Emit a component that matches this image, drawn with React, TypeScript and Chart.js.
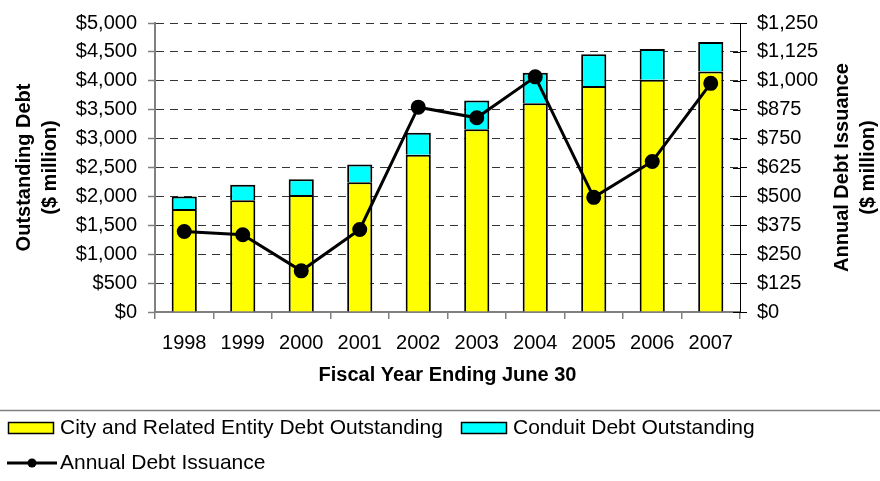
import React, { useEffect, useRef } from "react";
import { Chart, registerables } from "chart.js";

Chart.register(...registerables);

const categories = ["1998", "1999", "2000", "2001", "2002", "2003", "2004", "2005", "2006", "2007"];
const cityDebt = [1780, 1935, 2025, 2245, 2720, 3160, 3610, 3910, 4020, 4160];
const conduitDebt = [220, 265, 270, 305, 380, 500, 530, 550, 530, 510];
const issuance = [348, 334, 178, 357, 886, 840, 1017, 496, 651, 989];

const leftTitle = ["Outstanding Debt", "($ million)"];
const rightTitle = ["Annual Debt Issuance", "($ million)"];
const xTitle = "Fiscal Year Ending June 30";
const legendLabels = ["City and Related Entity Debt Outstanding", "Conduit Debt Outstanding", "Annual Debt Issuance"];

const FONT = "'Liberation Sans', Arial, sans-serif";
const money = (v: number) => "$" + Number(v).toLocaleString("en-US");

const decorPlugin = {
  id: "decor",
  afterDraw(chart: any) {
    const ctx = chart.ctx as CanvasRenderingContext2D;
    const area = chart.chartArea;
    const y1 = chart.scales.y1;
    // inner part of right-axis ticks
    ctx.save();
    ctx.strokeStyle = "#000";
    ctx.lineWidth = 1;
    y1.ticks.forEach((_t: any, i: number) => {
      const py = Math.round(y1.getPixelForTick(i)) + 0.5;
      ctx.beginPath();
      ctx.moveTo(area.right - 7, py);
      ctx.lineTo(area.right, py);
      ctx.stroke();
    });
    ctx.restore();

    ctx.save();
    ctx.fillStyle = "#000";
    ctx.textAlign = "center";
    ctx.textBaseline = "middle";
    ctx.font = `bold 20px ${FONT}`;
    const cy = (area.top + area.bottom) / 2;
    ctx.save();
    ctx.translate(24, cy);
    ctx.rotate(-Math.PI / 2);
    ctx.fillText(leftTitle[0], 0, 0);
    ctx.fillText(leftTitle[1], 0, 26);
    ctx.restore();
    ctx.save();
    ctx.translate(842, cy);
    ctx.rotate(-Math.PI / 2);
    ctx.fillText(rightTitle[0], 0, 0);
    ctx.fillText(rightTitle[1], 0, 26);
    ctx.restore();
    ctx.fillText(xTitle, (area.left + area.right) / 2, 375);
    ctx.restore();

    // legend
    ctx.save();
    ctx.strokeStyle = "#808080";
    ctx.lineWidth = 1.5;
    ctx.beginPath();
    ctx.moveTo(0, 410.5);
    ctx.lineTo(880, 410.5);
    ctx.stroke();

    ctx.font = `21px ${FONT}`;
    ctx.textAlign = "left";
    ctx.textBaseline = "middle";
    ctx.lineWidth = 1.5;
    ctx.strokeStyle = "#000";
    ctx.fillStyle = "#FFFF00";
    ctx.fillRect(8.5, 422.5, 45, 11);
    ctx.strokeRect(8.5, 422.5, 45, 11);
    ctx.fillStyle = "#000";
    ctx.fillText(legendLabels[0], 60, 428);
    ctx.fillStyle = "#00FFFF";
    ctx.fillRect(461.5, 422.5, 45, 11);
    ctx.strokeRect(461.5, 422.5, 45, 11);
    ctx.fillStyle = "#000";
    ctx.fillText(legendLabels[1], 513, 428);
    ctx.lineWidth = 3;
    ctx.beginPath();
    ctx.moveTo(7, 463);
    ctx.lineTo(57, 463);
    ctx.stroke();
    ctx.beginPath();
    ctx.arc(32, 463, 4.5, 0, Math.PI * 2);
    ctx.fill();
    ctx.fillText(legendLabels[2], 60, 463);
    ctx.restore();
  },
};

export default function App() {
  const ref = useRef<HTMLCanvasElement | null>(null);
  useEffect(() => {
    document.body.style.margin = "0";
    const canvas = ref.current;
    if (!canvas) return;
    const chart = new Chart(canvas, {
      type: "bar",
      data: {
        labels: categories,
        datasets: [
          {
            type: "line",
            label: legendLabels[2],
            data: issuance,
            yAxisID: "y1",
            borderColor: "#000",
            backgroundColor: "#000",
            borderWidth: 3,
            pointRadius: 6,
            pointBackgroundColor: "#000",
            pointBorderColor: "#000",
            tension: 0,
            order: 0,
          } as any,
          {
            label: legendLabels[0],
            data: cityDebt,
            yAxisID: "y",
            backgroundColor: "#FFFF00",
            borderColor: "#000",
            borderWidth: 2,
            barPercentage: 0.43,
            categoryPercentage: 1,
            order: 1,
            stack: "debt",
          },
          {
            label: legendLabels[1],
            data: conduitDebt,
            yAxisID: "y",
            backgroundColor: "#00FFFF",
            borderColor: "#000",
            borderWidth: 2,
            barPercentage: 0.43,
            categoryPercentage: 1,
            order: 1,
            stack: "debt",
          },
        ],
      },
      options: {
        responsive: false,
        animation: false,
        layout: { padding: { top: 20, left: 0, right: 0, bottom: 0 } },
        plugins: { legend: { display: false }, tooltip: { enabled: false }, title: { display: false } },
        scales: {
          x: {
            stacked: true,
            offset: true,
            grid: { display: true, drawOnChartArea: false, offset: true, tickLength: 7, color: "#808080", lineWidth: 1.5 },
            border: { color: "#808080", width: 2 },
            ticks: { color: "#000", font: { family: FONT, size: 20 }, padding: 12, maxRotation: 0, autoSkip: false },
            afterFit: (s: any) => { s.height = 169; },
          },
          y: {
            position: "left",
            stacked: true,
            min: 0,
            max: 5000,
            grid: { color: "#333333", lineWidth: 1, tickLength: 7, tickColor: "#808080", tickWidth: 1.5 },
            border: { color: "#808080", width: 2, dash: [8, 6] },
            ticks: { stepSize: 500, color: "#000", font: { family: FONT, size: 20 }, padding: 11, callback: (v: any) => money(v) },
            afterFit: (s: any) => { s.width = 155; },
          },
          y1: {
            position: "right",
            min: 0,
            max: 1250,
            grid: { drawOnChartArea: false, tickLength: 7, color: "#000" },
            border: { color: "#000", width: 1 },
            ticks: { stepSize: 125, color: "#000", font: { family: FONT, size: 20 }, padding: 10, callback: (v: any) => money(v) },
            afterFit: (s: any) => { s.width = 140; },
          },
        },
      },
      plugins: [decorPlugin],
    });
    return () => chart.destroy();
  }, []);
  return <canvas ref={ref} width={880} height={481} style={{ display: "block" }} />;
}
